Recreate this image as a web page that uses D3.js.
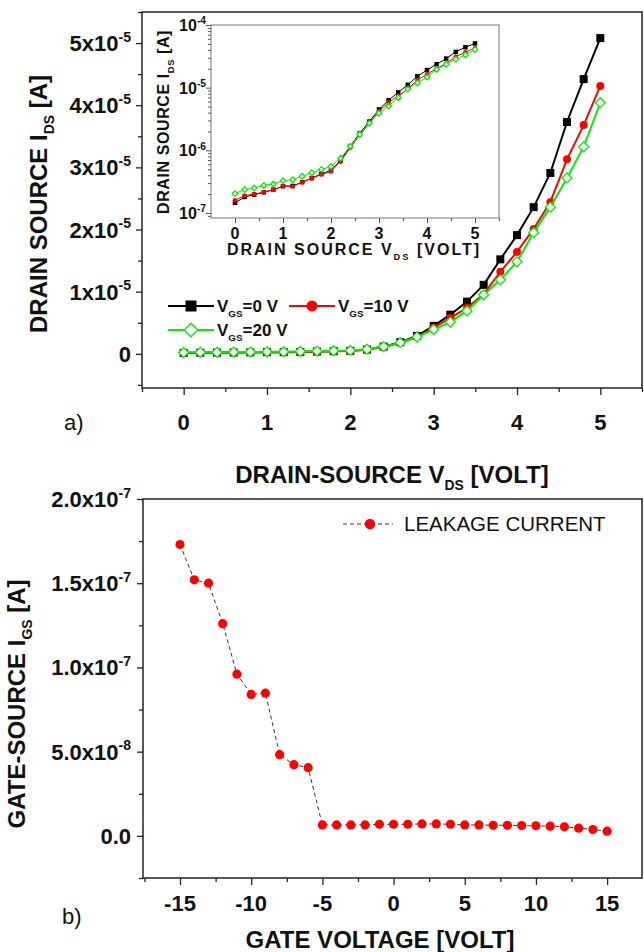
<!DOCTYPE html>
<html>
<head>
<meta charset="utf-8">
<script src="https://cdn.jsdelivr.net/npm/d3@7"></script>
<style>
body { margin: 0; background: #fff; }
svg { font-family: "Liberation Sans", Arial, sans-serif; }
</style>
</head>
<body>
<div id="chart"></div>
<script>
// ---- data, panel a) drain-source current vs V_DS
var vds = [ 0, 0.2, 0.4, 0.6, 0.8, 1.0, 1.2, 1.4, 1.6, 1.8, 2.0, 2.2, 2.4, 2.6, 2.8, 3.0, 3.2, 3.4, 3.6, 3.8, 4.0, 4.2, 4.4, 4.6, 4.8, 5.0 ];
var idsVgs0 = [ 1.45e-7, 1.8e-7, 1.96e-7, 2.14e-7, 2.36e-7, 2.67e-7, 2.7e-7, 3.1e-7, 3.6e-7, 4.2e-7, 4.8e-7, 6.9e-7, 1.16e-6, 1.88e-6, 2.88e-6, 4.5e-6, 6.3e-6, 8.4e-6, 1.11e-5, 1.52e-5, 1.91e-5, 2.36e-5, 2.91e-5, 3.73e-5, 4.42e-5, 5.08e-5 ];
var idsVgs10 = [ 1.6e-7, 1.9e-7, 2.0e-7, 2.15e-7, 2.35e-7, 2.7e-7, 2.65e-7, 3.1e-7, 3.6e-7, 4.1e-7, 4.6e-7, 6.6e-7, 1.1e-6, 1.75e-6, 2.7e-6, 4.2e-6, 5.8e-6, 7.4e-6, 9.6e-6, 1.32e-5, 1.64e-5, 2.01e-5, 2.44e-5, 3.13e-5, 3.68e-5, 4.31e-5 ];
var idsVgs20 = [ 2.04e-7, 2.36e-7, 2.5e-7, 2.75e-7, 2.9e-7, 3.28e-7, 3.4e-7, 3.85e-7, 4.4e-7, 4.96e-7, 5.5e-7, 7.5e-7, 1.16e-6, 1.8e-6, 2.7e-6, 3.9e-6, 5.1e-6, 6.9e-6, 9.5e-6, 1.19e-5, 1.48e-5, 1.95e-5, 2.36e-5, 2.83e-5, 3.33e-5, 4.04e-5 ];

var seriesNames = [ '0', '10', '20' ];
var seriesColors = [ '#000000', '#ff0000', '#00ee00' ];

// tick labels
var xTicksA = [ 0, 1, 2, 3, 4, 5 ];
var xMinorA = [ -0.5, 0.5, 1.5, 2.5, 3.5, 4.5, 5.5 ];
var yTicksA = [ 0, 1e-5, 2e-5, 3e-5, 4e-5, 5e-5 ];
var yLabelsA = [ [ '0' ], [ '1x10', '-5' ], [ '2x10', '-5' ], [ '3x10', '-5' ], [ '4x10', '-5' ], [ '5x10', '-5' ] ];
var yMinorA = [ -0.5e-5, 0.5e-5, 1.5e-5, 2.5e-5, 3.5e-5, 4.5e-5, 5.5e-5 ];
var yTicksInset = [ 1e-7, 1e-6, 1e-5, 1e-4 ];
var yLabelsInset = [ [ '10', '-7' ], [ '10', '-6' ], [ '10', '-5' ], [ '10', '-4' ] ];

// ---- data, panel b) gate leakage
var vgs = [ -15, -14, -13, -12, -11, -10, -9, -8, -7, -6, -5, -4, -3, -2, -1, 0, 1, 2, 3, 4, 5, 6, 7, 8, 9, 10, 11, 12, 13, 14, 15 ];
var igs = [ 1.73e-7, 1.52e-7, 1.5e-7, 1.26e-7, 9.6e-8, 8.4e-8, 8.47e-8, 4.82e-8, 4.23e-8, 4.05e-8, 6.5e-9, 6.5e-9, 6.5e-9, 6.5e-9, 6.9e-9, 6.9e-9, 6.9e-9, 7.1e-9, 7.1e-9, 6.9e-9, 6.5e-9, 6.5e-9, 6.3e-9, 6.3e-9, 6.1e-9, 5.95e-9, 5.75e-9, 5.4e-9, 4.6e-9, 3.8e-9, 2.8e-9 ];

var xTicksB = [ -15, -10, -5, 0, 5, 10, 15 ];
var xMinorB = [ -17.5, -12.5, -7.5, -2.5, 2.5, 7.5, 12.5 ];
var yTicksB = [ 0, 5e-8, 1e-7, 1.5e-7, 2e-7 ];
var yLabelsB = [ [ '0.0' ], [ '5.0x10', '-8' ], [ '1.0x10', '-7' ], [ '1.5x10', '-7' ], [ '2.0x10', '-7' ] ];
var yMinorB = [ -2.5e-8, 2.5e-8, 7.5e-8, 1.25e-7, 1.75e-7 ];

var w = 644,
	h = 952;

var svg = d3.select('#chart').append('svg').attr('width', w).attr('height', h);

// text with optional superscript part: parts = [text, sup]
function sciText(g, x, y, anchor, size, parts) {
	var t = g.append('text').attr('x', x).attr('y', y).attr('text-anchor', anchor)
		.attr('font-size', size).attr('font-weight', 'bold').attr('fill', '#111');
	t.append('tspan').text(parts[0]);
	if (parts.length > 1) {
		t.append('tspan').attr('dy', -size * 0.42).attr('font-size', size * 0.64).text(parts[1]);
	}
	return t;
}

function subText(g, size, pre, sub, post) {
	g.append('tspan').text(pre);
	g.append('tspan').attr('dy', size * 0.3).attr('font-size', size * 0.58).text(sub);
	g.append('tspan').attr('dy', -size * 0.3).text(post);
}

function minorAxis(axis, vals, len) {
	return axis.tickValues(vals).tickSize(len).tickFormat('');
}

// =========================== panel a
var xA = d3.scaleLinear().domain([ -0.5, 5.5 ]).range([ 142, 642 ]);
var yA = d3.scaleLinear().domain([ -0.55e-5, 5.5e-5 ]).range([ 388, 12 ]);

var gA = svg.append('g');

gA.append('rect').attr('x', 142).attr('y', 12).attr('width', 500).attr('height', 376)
	.attr('fill', 'none').attr('stroke', '#222').attr('stroke-width', 1.5);

var axA = [
	[ d3.axisBottom(xA).tickValues(xTicksA).tickSize(7).tickFormat(''), 'translate(0,388)' ],
	[ minorAxis(d3.axisBottom(xA), xMinorA, 4), 'translate(0,388)' ],
	[ d3.axisLeft(yA).tickValues(yTicksA).tickSize(6).tickFormat(''), 'translate(142,0)' ],
	[ minorAxis(d3.axisLeft(yA), yMinorA, 4), 'translate(142,0)' ]
];
axA.forEach(function(a) {
	var g = gA.append('g').attr('transform', a[1]).call(a[0]);
	g.select('.domain').remove();
	g.selectAll('line').attr('stroke', '#222').attr('stroke-width', 1.3);
});

xTicksA.forEach(function(d) {
	sciText(gA, xA(d), 430, 'middle', 22, [ String(d) ]);
});
yTicksA.forEach(function(d, i) {
	sciText(gA, 131, yA(d) + 8, 'end', 22, yLabelsA[i]);
});

var ty = gA.append('text').attr('transform', 'translate(47,204) rotate(-90)').attr('text-anchor', 'middle')
	.attr('font-size', 24).attr('font-weight', 'bold').attr('fill', '#111');
subText(ty, 24, 'DRAIN SOURCE I', 'DS', ' [A]');

var tx = gA.append('text').attr('x', 392).attr('y', 483).attr('text-anchor', 'middle')
	.attr('font-size', 24).attr('font-weight', 'bold').attr('fill', '#111');
subText(tx, 24, 'DRAIN-SOURCE V', 'DS', ' [VOLT]');

gA.append('text').attr('x', 64).attr('y', 430).attr('font-size', 22).attr('fill', '#111').text('a)');

var series = [ idsVgs0, idsVgs10, idsVgs20 ];

function drawMarker(g, kind, x, y, s, color) {
	if (kind == 0) {
		g.append('rect').attr('x', x - s / 2).attr('y', y - s / 2).attr('width', s).attr('height', s).attr('fill', color);
	} else if (kind == 1) {
		g.append('circle').attr('cx', x).attr('cy', y).attr('r', s / 2).attr('fill', color);
	} else {
		var r = s * 0.62;
		g.append('path')
			.attr('d', 'M' + x + ',' + (y - r) + 'L' + (x + r) + ',' + y + 'L' + x + ',' + (y + r) + 'L' + (x - r) + ',' + y + 'Z')
			.attr('fill', '#fff').attr('stroke', color).attr('stroke-width', 1.3);
	}
}

var lineA = d3.line().x(function(d) { return xA(d[0]); }).y(function(d) { return yA(d[1]); });

series.forEach(function(vals, k) {
	var pts = vds.map(function(v, i) { return [ v, vals[i] ]; });
	var g = gA.append('g');
	g.append('path').attr('d', lineA(pts)).attr('fill', 'none').attr('stroke', seriesColors[k]).attr('stroke-width', 2);
	pts.forEach(function(p) {
		drawMarker(g, k, xA(p[0]), yA(p[1]), 8, seriesColors[k]);
	});
});

// legend
var legRows = [ [ 0, 168, 306 ], [ 1, 289, 306 ], [ 2, 168, 330 ] ];
legRows.forEach(function(r) {
	var k = r[0], x0 = r[1], yy = r[2];
	var g = gA.append('g');
	g.append('line').attr('x1', x0).attr('x2', x0 + 46).attr('y1', yy).attr('y2', yy)
		.attr('stroke', seriesColors[k]).attr('stroke-width', 2);
	drawMarker(g, k, x0 + 23, yy, 11, seriesColors[k]);
	var t = g.append('text').attr('x', x0 + 49).attr('y', yy + 6).attr('font-size', 17)
		.attr('font-weight', 'bold').attr('fill', '#111');
	subText(t, 17, 'V', 'GS', '=' + seriesNames[k] + ' V');
});

// ---- inset (log scale)
var xI = d3.scaleLinear().domain([ -0.5, 5.5 ]).range([ 211, 499 ]);
var yI = d3.scaleLog().domain([ Math.pow(10, -7.08), 1e-4 ]).range([ 218, 25 ]);

var gI = svg.append('g');
gI.append('rect').attr('x', 211).attr('y', 25).attr('width', 288).attr('height', 193)
	.attr('fill', '#fff').attr('stroke', '#777').attr('stroke-width', 1);

var yMinorI = [];
[ 1e-8, 1e-7, 1e-6, 1e-5 ].forEach(function(dec) {
	[ 2, 3, 4, 5, 6, 7, 8, 9 ].forEach(function(m) {
		if (m * dec >= Math.pow(10, -7.08) && m * dec <= 1e-4) yMinorI.push(m * dec);
	});
});

var axI = [
	[ d3.axisBottom(xI).tickValues(xTicksA).tickSize(5).tickFormat(''), 'translate(0,218)' ],
	[ minorAxis(d3.axisBottom(xI), [ 0.5, 1.5, 2.5, 3.5, 4.5, 5.5 ], 3), 'translate(0,218)' ],
	[ d3.axisLeft(yI).tickValues(yTicksInset).tickSize(5).tickFormat(''), 'translate(211,0)' ],
	[ minorAxis(d3.axisLeft(yI), yMinorI, 3), 'translate(211,0)' ]
];
axI.forEach(function(a) {
	var g = gI.append('g').attr('transform', a[1]).call(a[0]);
	g.select('.domain').remove();
	g.selectAll('line').attr('stroke', '#555').attr('stroke-width', 1);
});

xTicksA.forEach(function(d) {
	sciText(gI, xI(d), 239, 'middle', 16, [ String(d) ]);
});
yTicksInset.forEach(function(d, i) {
	sciText(gI, 206, yI(d) + 6, 'end', 16, yLabelsInset[i]);
});

var tyI = gI.append('text').attr('transform', 'translate(169,122) rotate(-90)').attr('text-anchor', 'middle')
	.attr('font-size', 16).attr('font-weight', 'bold').attr('fill', '#111').attr('letter-spacing', 0.6);
subText(tyI, 16, 'DRAIN SOURCE I', 'DS', ' [A]');

var txI = gI.append('text').attr('x', 354).attr('y', 255).attr('text-anchor', 'middle')
	.attr('font-size', 16).attr('font-weight', 'bold').attr('fill', '#111').attr('letter-spacing', 2);
subText(txI, 16, 'DRAIN SOURCE V', 'DS', ' [VOLT]');

var lineI = d3.line().x(function(d) { return xI(d[0]); }).y(function(d) { return yI(d[1]); });
series.forEach(function(vals, k) {
	var pts = vds.map(function(v, i) { return [ v, vals[i] ]; });
	var g = gI.append('g');
	g.append('path').attr('d', lineI(pts)).attr('fill', 'none').attr('stroke', seriesColors[k]).attr('stroke-width', 1);
	pts.forEach(function(p) {
		drawMarker(g, k, xI(p[0]), yI(p[1]), 4.5, seriesColors[k]);
	});
});

// =========================== panel b
var xB = d3.scaleLinear().domain([ -17.6, 17.45 ]).range([ 143, 642 ]);
var yB = d3.scaleLinear().domain([ -2.5e-8, 2.0e-7 ]).range([ 878, 499 ]);

var gB = svg.append('g');
gB.append('rect').attr('x', 143).attr('y', 499).attr('width', 499).attr('height', 379)
	.attr('fill', 'none').attr('stroke', '#222').attr('stroke-width', 1.5);

var axB = [
	[ d3.axisBottom(xB).tickValues(xTicksB).tickSize(7).tickFormat(''), 'translate(0,878)' ],
	[ minorAxis(d3.axisBottom(xB), xMinorB, 4), 'translate(0,878)' ],
	[ d3.axisLeft(yB).tickValues(yTicksB).tickSize(6).tickFormat(''), 'translate(143,0)' ],
	[ minorAxis(d3.axisLeft(yB), yMinorB, 4), 'translate(143,0)' ]
];
axB.forEach(function(a) {
	var g = gB.append('g').attr('transform', a[1]).call(a[0]);
	g.select('.domain').remove();
	g.selectAll('line').attr('stroke', '#222').attr('stroke-width', 1.3);
});

xTicksB.forEach(function(d) {
	sciText(gB, xB(d), 911, 'middle', 22, [ String(d) ]);
});
yTicksB.forEach(function(d, i) {
	sciText(gB, 131, yB(d) + 8, 'end', 22, yLabelsB[i]);
});

var tyB = gB.append('text').attr('transform', 'translate(25,704) rotate(-90)').attr('text-anchor', 'middle')
	.attr('font-size', 24).attr('font-weight', 'bold').attr('fill', '#111');
subText(tyB, 24, 'GATE-SOURCE I', 'GS', ' [A]');

gB.append('text').attr('x', 380).attr('y', 948).attr('text-anchor', 'middle')
	.attr('font-size', 24).attr('font-weight', 'bold').attr('fill', '#111').text('GATE VOLTAGE [VOLT]');

gB.append('text').attr('x', 62).attr('y', 924).attr('font-size', 22).attr('fill', '#111').text('b)');

var lineB = d3.line().x(function(d) { return xB(d[0]); }).y(function(d) { return yB(d[1]); });
var ptsB = vgs.map(function(v, i) { return [ v, igs[i] ]; });

gB.append('path').attr('d', lineB(ptsB)).attr('fill', 'none').attr('stroke', '#333')
	.attr('stroke-width', 1).attr('stroke-dasharray', '4,3');
gB.selectAll('.dot').data(ptsB).enter().append('circle').attr('class', 'dot')
	.attr('cx', function(d) { return xB(d[0]); })
	.attr('cy', function(d) { return yB(d[1]); })
	.attr('r', 4.6).attr('fill', '#ff0000');

// legend b
gB.append('line').attr('x1', 343).attr('x2', 393).attr('y1', 524).attr('y2', 524)
	.attr('stroke', '#333').attr('stroke-width', 1).attr('stroke-dasharray', '4,3');
gB.append('circle').attr('cx', 370).attr('cy', 524).attr('r', 5.2).attr('fill', '#ff0000');
gB.append('text').attr('x', 404).attr('y', 531).attr('font-size', 20.5).attr('fill', '#111').text('LEAKAGE CURRENT');
</script>
</body>
</html>
